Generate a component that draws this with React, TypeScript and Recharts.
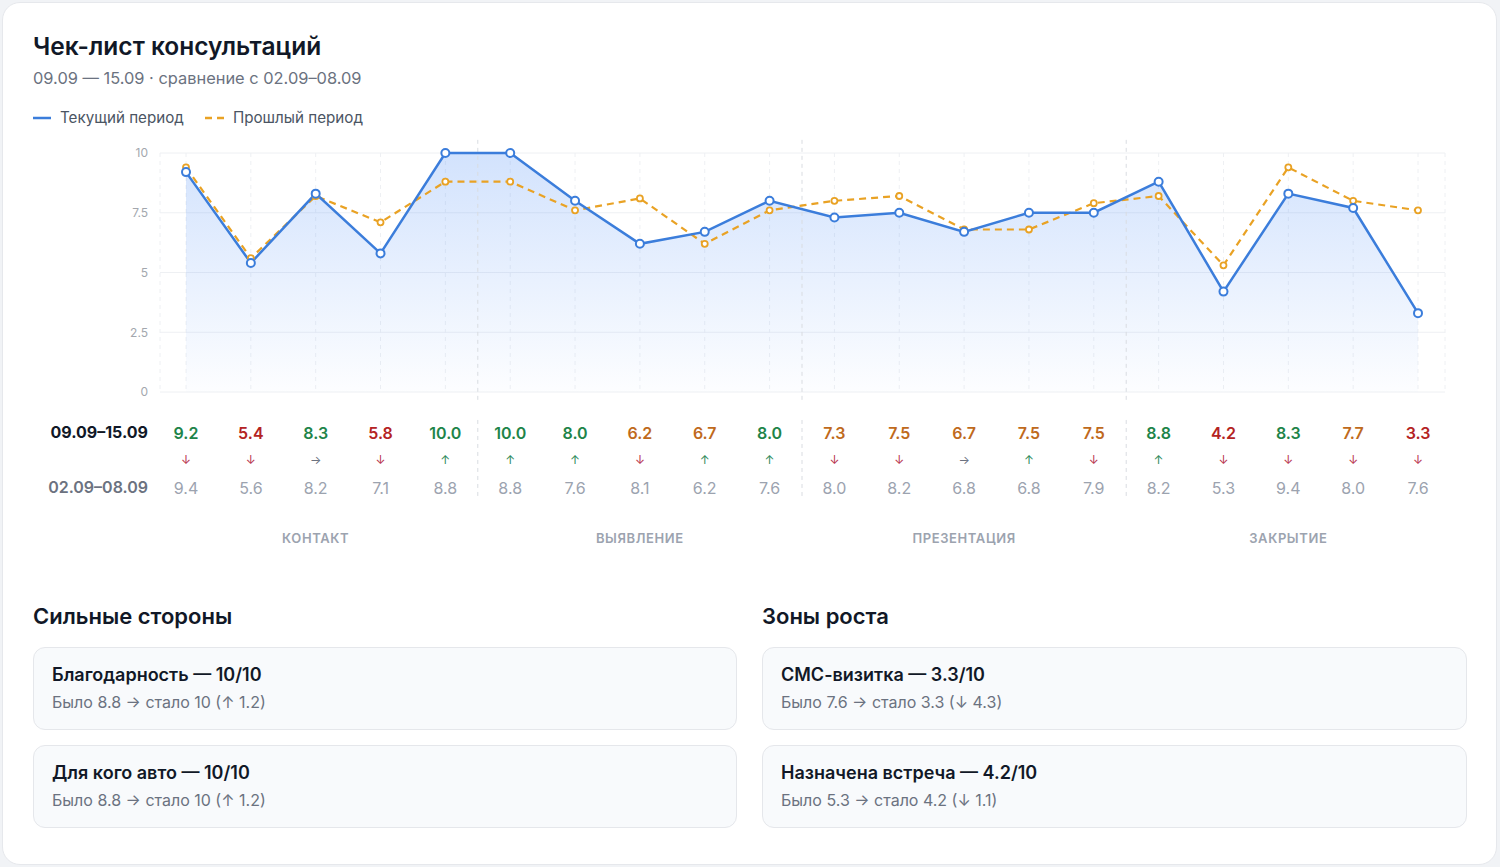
import {
  Area,
  CartesianGrid,
  ComposedChart,
  Line,
  ReferenceLine,
  XAxis,
  YAxis,
} from "recharts";

const currentScores = [9.2, 5.4, 8.3, 5.8, 10.0, 10.0, 8.0, 6.2, 6.7, 8.0, 7.3, 7.5, 6.7, 7.5, 7.5, 8.8, 4.2, 8.3, 7.7, 3.3];
const pastScores = [9.4, 5.6, 8.2, 7.1, 8.8, 8.8, 7.6, 8.1, 6.2, 7.6, 8.0, 8.2, 6.8, 6.8, 7.9, 8.2, 5.3, 9.4, 8.0, 7.6];
const yTicks = [0, 2.5, 5, 7.5, 10];

const groups = [
  { label: "КОНТАКТ", start: 0, end: 4 },
  { label: "ВЫЯВЛЕНИЕ", start: 5, end: 9 },
  { label: "ПРЕЗЕНТАЦИЯ", start: 10, end: 14 },
  { label: "ЗАКРЫТИЕ", start: 15, end: 19 },
];

const currentPeriod = "09.09–15.09";
const pastPeriod = "02.09–08.09";

const strengths = [
  { name: "Благодарность", past: 8.8, current: 10 },
  { name: "Для кого авто", past: 8.8, current: 10 },
];
const growthZones = [
  { name: "СМС-визитка", past: 7.6, current: 3.3 },
  { name: "Назначена встреча", past: 5.3, current: 4.2 },
];

const BLUE = "#3b7ddb";
const ORANGE = "#e9a224";
const FONT = "Inter, 'Noto Sans', sans-serif";

const data = currentScores.map((v, i) => ({ idx: i, current: v, past: pastScores[i] }));
const xTicks = data.map((d) => d.idx);

function valueColor(v: number) {
  if (v >= 8) return "#1e8449";
  if (v >= 6) return "#bf6a1c";
  return "#b42323";
}

function TableTick(props: any) {
  const { x, y, payload } = props;
  const i = payload.value as number;
  const cur = currentScores[i];
  const past = pastScores[i];
  const d = cur - past;
  const arrow = d > 0.15 ? "↑" : d < -0.15 ? "↓" : "→";
  const arrowColor = d > 0.15 ? "#2f8a5b" : d < -0.15 ? "#b8354e" : "#6b7280";
  const group = groups.find((g) => Math.floor((g.start + g.end) / 2) === i);
  return (
    <g fontFamily={FONT}>
      {i === 0 && (
        <>
          <text x={x - 38} y={y + 40} textAnchor="end" dominantBaseline="central" fontSize={16} fontWeight={700} fill="#111827">
            {currentPeriod}
          </text>
          <text x={x - 38} y={y + 95} textAnchor="end" dominantBaseline="central" fontSize={16} fontWeight={600} fill="#6b7280">
            {pastPeriod}
          </text>
        </>
      )}
      <text x={x} y={y + 41} textAnchor="middle" dominantBaseline="central" fontSize={16} fontWeight={600} fill={valueColor(cur)}>
        {cur.toFixed(1)}
      </text>
      <text x={x} y={y + 67} textAnchor="middle" dominantBaseline="central" fontSize={12} fill={arrowColor}>
        {arrow}
      </text>
      <text x={x} y={y + 96} textAnchor="middle" dominantBaseline="central" fontSize={16} fill="#9ca3af">
        {past.toFixed(1)}
      </text>
      {group && (
        <text x={x} y={y + 146} textAnchor="middle" dominantBaseline="central" fontSize={13} fontWeight={600} letterSpacing={0.6} fill="#9ca3af">
          {group.label}
        </text>
      )}
    </g>
  );
}

const separators = groups.slice(1).map((g) => g.start - 0.5);

function fmt(v: number) {
  return String(v);
}

function InfoCard({ item }: { item: { name: string; past: number; current: number } }) {
  const diff = item.current - item.past;
  return (
    <div
      style={{
        height: 83,
        boxSizing: "border-box",
        background: "#f8fafc",
        border: "1px solid #e5e7eb",
        borderRadius: 12,
        padding: "15px 18px",
        marginBottom: 15,
      }}
    >
      <div style={{ fontSize: 18, fontWeight: 600, color: "#111827", lineHeight: "24px" }}>
        {item.name} — {fmt(item.current)}/10
      </div>
      <div style={{ fontSize: 16, color: "#6b7280", lineHeight: "22px", marginTop: 4 }}>
        Было {fmt(item.past)} → стало {fmt(item.current)} ({diff >= 0 ? "↑" : "↓"} {Math.abs(diff).toFixed(1)})
      </div>
    </div>
  );
}

export default function App() {
  return (
    <div style={{ position: "relative", width: 1500, height: 867, fontFamily: FONT }}>
      <style>{`body{margin:0;background:#f1f3f6;}`}</style>
      <div
        style={{
          position: "absolute",
          left: 2,
          top: 2,
          width: 1495,
          height: 863,
          boxSizing: "border-box",
          background: "#fff",
          border: "1px solid #e6e8ec",
          borderRadius: 18,
        }}
      />
      <div style={{ position: "absolute", left: 33, top: 30, fontSize: 24.5, fontWeight: 600, color: "#111827", lineHeight: "32px" }}>
        Чек-лист консультаций
      </div>
      <div style={{ position: "absolute", left: 33, top: 67, fontSize: 16.4, color: "#6b7280", lineHeight: "22px" }}>
        09.09 — 15.09 · сравнение с 02.09–08.09
      </div>
      <div style={{ position: "absolute", left: 33, top: 107, display: "flex", alignItems: "center", fontSize: 15.2, color: "#4b5563", lineHeight: "22px" }}>
        <svg width={18} height={4} style={{ marginRight: 9 }}>
          <line x1={0} y1={2} x2={18} y2={2} stroke={BLUE} strokeWidth={2.5} />
        </svg>
        <span style={{ marginRight: 21 }}>Текущий период</span>
        <svg width={19} height={4} style={{ marginRight: 9 }}>
          <line x1={0} y1={2} x2={19} y2={2} stroke={ORANGE} strokeWidth={2.5} strokeDasharray="7 5" />
        </svg>
        <span>Прошлый период</span>
      </div>

      <div style={{ position: "absolute", left: 0, top: 130 }}>
        <ComposedChart width={1500} height={432} data={data} margin={{ top: 23, right: 55, bottom: 0, left: 100 }}>
          <defs>
            <linearGradient id="curFill" x1="0" y1="0" x2="0" y2="1">
              <stop offset="0%" stopColor="#3b82f6" stopOpacity={0.38} />
              <stop offset="100%" stopColor="#3b82f6" stopOpacity={0.02} />
            </linearGradient>
          </defs>
          <CartesianGrid horizontal vertical={false} stroke="#eef0f3" />
          <CartesianGrid horizontal={false} vertical stroke="#eef0f3" strokeDasharray="4 4" />
          <XAxis
            dataKey="idx"
            type="number"
            domain={[0, 19]}
            ticks={xTicks}
            interval={0}
            padding={{ left: 26, right: 27 }}
            axisLine={false}
            tickLine={false}
            tickSize={0}
            tickMargin={0}
            height={170}
            tick={<TableTick />}
          />
          <YAxis
            domain={[0, 10]}
            ticks={yTicks}
            width={60}
            axisLine={false}
            tickLine={false}
            tickSize={0}
            tickMargin={12}
            tick={{ fontSize: 12, fill: "#a3a7ae", fontFamily: FONT }}
          />
          {separators.map((s) => (
            <ReferenceLine
              key={`c${s}`}
              segment={[{ x: s, y: 10.55 }, { x: s, y: -0.33 }]}
              stroke="#d9dce1"
              strokeDasharray="4 4"
              ifOverflow="visible"
            />
          ))}
          {separators.map((s) => (
            <ReferenceLine
              key={`t${s}`}
              segment={[{ x: s, y: -1.17 }, { x: s, y: -4.52 }]}
              stroke="#d9dce1"
              strokeDasharray="4 4"
              ifOverflow="visible"
            />
          ))}
          <Area type="linear" dataKey="current" stroke="none" fill="url(#curFill)" isAnimationActive={false} />
          <Line
            type="linear"
            dataKey="past"
            stroke={ORANGE}
            strokeWidth={2.2}
            strokeDasharray="7 5"
            dot={{ r: 3, fill: "#fff", stroke: ORANGE, strokeWidth: 1.8, strokeDasharray: "none" }}
            isAnimationActive={false}
          />
          <Line
            type="linear"
            dataKey="current"
            stroke={BLUE}
            strokeWidth={2.5}
            dot={{ r: 4, fill: "#fff", stroke: BLUE, strokeWidth: 2 }}
            isAnimationActive={false}
          />
        </ComposedChart>
      </div>

      <div style={{ position: "absolute", left: 33, top: 600, width: 704 }}>
        <div style={{ fontSize: 22, fontWeight: 600, color: "#111827", lineHeight: "32px", marginBottom: 15 }}>Сильные стороны</div>
        {strengths.map((s) => (
          <InfoCard key={s.name} item={s} />
        ))}
      </div>
      <div style={{ position: "absolute", left: 762, top: 600, width: 705 }}>
        <div style={{ fontSize: 22, fontWeight: 600, color: "#111827", lineHeight: "32px", marginBottom: 15 }}>Зоны роста</div>
        {growthZones.map((s) => (
          <InfoCard key={s.name} item={s} />
        ))}
      </div>
    </div>
  );
}
